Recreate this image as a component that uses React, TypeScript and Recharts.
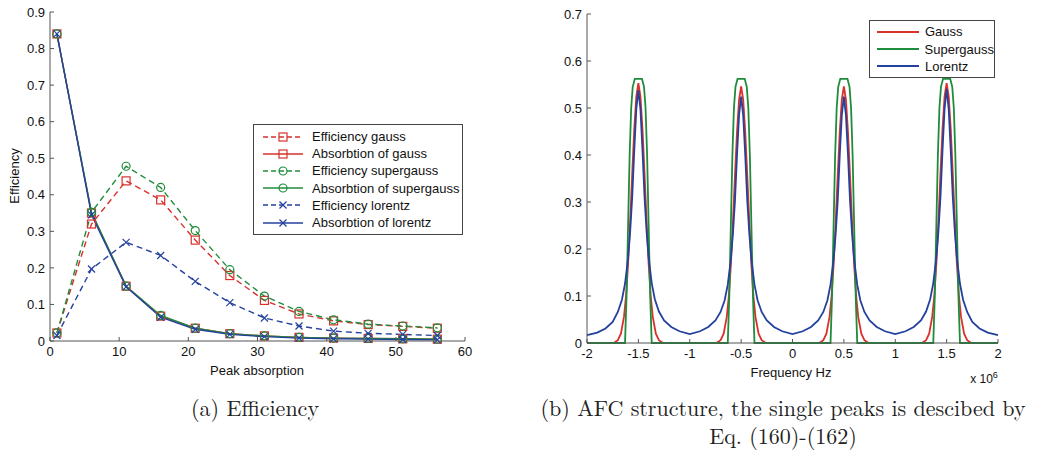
import React from "react";
import { LineChart, Line, XAxis, YAxis, Legend } from "recharts";

// ---- (a) Efficiency ----
const peakAbsorption = [1, 6, 11, 16, 21, 26, 31, 36, 41, 46, 51, 56];
const effGauss = [0.022, 0.32, 0.438, 0.386, 0.276, 0.179, 0.111, 0.074, 0.055, 0.045, 0.04, 0.035];
const absGauss = [0.84, 0.35, 0.15, 0.068, 0.035, 0.02, 0.014, 0.01, 0.008, 0.007, 0.006, 0.005];
const effSuper = [0.022, 0.352, 0.478, 0.42, 0.302, 0.195, 0.123, 0.081, 0.058, 0.046, 0.041, 0.036];
const absSuper = [0.84, 0.352, 0.15, 0.07, 0.035, 0.02, 0.014, 0.01, 0.008, 0.007, 0.006, 0.005];
const effLorentz = [0.015, 0.197, 0.27, 0.234, 0.163, 0.105, 0.063, 0.041, 0.027, 0.021, 0.018, 0.015];
const absLorentz = [0.84, 0.345, 0.148, 0.065, 0.032, 0.018, 0.012, 0.008, 0.006, 0.005, 0.004, 0.003];
const effTicksX = [0, 10, 20, 30, 40, 50, 60];
const effTicksY = [0, 0.1, 0.2, 0.3, 0.4, 0.5, 0.6, 0.7, 0.8, 0.9];

// ---- (b) AFC structure (frequency in units of 1e6 Hz) ----
const gaussFreq = [
  -2,
  -1.74, -1.7, -1.67, -1.64, -1.62, -1.6, -1.58, -1.56, -1.54, -1.52, -1.5, -1.48, -1.46, -1.44, -1.42, -1.4, -1.38, -1.36, -1.33, -1.3, -1.26,
  -1,
  -0.74, -0.7, -0.67, -0.64, -0.62, -0.6, -0.58, -0.56, -0.54, -0.52, -0.5, -0.48, -0.46, -0.44, -0.42, -0.4, -0.38, -0.36, -0.33, -0.3, -0.26,
  0,
  0.26, 0.3, 0.33, 0.36, 0.38, 0.4, 0.42, 0.44, 0.46, 0.48, 0.5, 0.52, 0.54, 0.56, 0.58, 0.6, 0.62, 0.64, 0.67, 0.7, 0.74,
  1,
  1.26, 1.3, 1.33, 1.36, 1.38, 1.4, 1.42, 1.44, 1.46, 1.48, 1.5, 1.52, 1.54, 1.56, 1.58, 1.6, 1.62, 1.64, 1.67, 1.7, 1.74,
  2,
];
const gaussAfc = [
  0,
  0, 0.006, 0.02, 0.056, 0.1, 0.168, 0.26, 0.36, 0.455, 0.525, 0.553, 0.525, 0.455, 0.36, 0.26, 0.168, 0.1, 0.056, 0.02, 0.006, 0,
  0,
  0, 0.006, 0.02, 0.055, 0.099, 0.166, 0.257, 0.355, 0.449, 0.518, 0.546, 0.518, 0.449, 0.355, 0.257, 0.166, 0.099, 0.055, 0.02, 0.006, 0,
  0,
  0, 0.006, 0.02, 0.055, 0.099, 0.166, 0.257, 0.355, 0.449, 0.518, 0.546, 0.518, 0.449, 0.355, 0.257, 0.166, 0.099, 0.055, 0.02, 0.006, 0,
  0,
  0, 0.006, 0.02, 0.056, 0.1, 0.168, 0.26, 0.36, 0.455, 0.525, 0.553, 0.525, 0.455, 0.36, 0.26, 0.168, 0.1, 0.056, 0.02, 0.006, 0,
  0,
];

const superFreq = [
  -2,
  -1.63, -1.615, -1.6, -1.585, -1.57, -1.555, -1.535, -1.5, -1.465, -1.445, -1.43, -1.415, -1.4, -1.385, -1.37,
  -1,
  -0.63, -0.615, -0.6, -0.585, -0.57, -0.555, -0.535, -0.5, -0.465, -0.445, -0.43, -0.415, -0.4, -0.385, -0.37,
  0,
  0.37, 0.385, 0.4, 0.415, 0.43, 0.445, 0.465, 0.5, 0.535, 0.555, 0.57, 0.585, 0.6, 0.615, 0.63,
  1,
  1.37, 1.385, 1.4, 1.415, 1.43, 1.445, 1.465, 1.5, 1.535, 1.555, 1.57, 1.585, 1.6, 1.615, 1.63,
  2,
];
const superAfc = [
  0,
  0, 0.1, 0.25, 0.4, 0.5, 0.545, 0.562, 0.562, 0.562, 0.545, 0.5, 0.4, 0.25, 0.1, 0,
  0,
  0, 0.1, 0.25, 0.4, 0.5, 0.545, 0.562, 0.562, 0.562, 0.545, 0.5, 0.4, 0.25, 0.1, 0,
  0,
  0, 0.1, 0.25, 0.4, 0.5, 0.545, 0.562, 0.562, 0.562, 0.545, 0.5, 0.4, 0.25, 0.1, 0,
  0,
  0, 0.1, 0.25, 0.4, 0.5, 0.545, 0.562, 0.562, 0.562, 0.545, 0.5, 0.4, 0.25, 0.1, 0,
  0,
];

const lorentzFreq = [
  -2,
  -1.9, -1.82, -1.75, -1.7, -1.66, -1.63, -1.6, -1.58, -1.56, -1.54, -1.52, -1.5, -1.48, -1.46, -1.44, -1.42, -1.4, -1.37, -1.34, -1.3, -1.25, -1.18, -1.1,
  -1,
  -0.9, -0.82, -0.75, -0.7, -0.66, -0.63, -0.6, -0.58, -0.56, -0.54, -0.52, -0.5, -0.48, -0.46, -0.44, -0.42, -0.4, -0.37, -0.34, -0.3, -0.25, -0.18, -0.1,
  0,
  0.1, 0.18, 0.25, 0.3, 0.34, 0.37, 0.4, 0.42, 0.44, 0.46, 0.48, 0.5, 0.52, 0.54, 0.56, 0.58, 0.6, 0.63, 0.66, 0.7, 0.75, 0.82, 0.9,
  1,
  1.1, 1.18, 1.25, 1.3, 1.34, 1.37, 1.4, 1.42, 1.44, 1.46, 1.48, 1.5, 1.52, 1.54, 1.56, 1.58, 1.6, 1.63, 1.66, 1.7, 1.75, 1.82, 1.9,
  2,
];
const lorentzAfc = [
  0.017,
  0.022, 0.031, 0.045, 0.066, 0.092, 0.126, 0.181, 0.237, 0.31, 0.41, 0.498, 0.538, 0.498, 0.41, 0.31, 0.237, 0.182, 0.127, 0.093, 0.067, 0.048, 0.034, 0.025,
  0.019,
  0.025, 0.034, 0.048, 0.066, 0.091, 0.124, 0.178, 0.232, 0.302, 0.4, 0.485, 0.524, 0.485, 0.4, 0.302, 0.232, 0.178, 0.124, 0.091, 0.066, 0.048, 0.034, 0.025,
  0.019,
  0.025, 0.034, 0.048, 0.066, 0.091, 0.124, 0.178, 0.232, 0.302, 0.4, 0.485, 0.524, 0.485, 0.4, 0.302, 0.232, 0.178, 0.124, 0.091, 0.066, 0.048, 0.034, 0.025,
  0.019,
  0.025, 0.034, 0.048, 0.067, 0.093, 0.127, 0.182, 0.237, 0.31, 0.41, 0.498, 0.541, 0.498, 0.41, 0.31, 0.237, 0.181, 0.126, 0.092, 0.066, 0.045, 0.031, 0.022,
  0.017,
];
const afcTicksX = [-2, -1.5, -1, -0.5, 0, 0.5, 1, 1.5, 2];
const afcTicksY = [0, 0.1, 0.2, 0.3, 0.4, 0.5, 0.6, 0.7];

const RED = "#d8312c";
const GREEN = "#1f8c3b";
const BLUE = "#24419e";

const effData = peakAbsorption.map((p, i) => ({
  p,
  effGauss: effGauss[i],
  absGauss: absGauss[i],
  effSuper: effSuper[i],
  absSuper: absSuper[i],
  effLorentz: effLorentz[i],
  absLorentz: absLorentz[i],
}));

const zip = (f: number[], v: number[]) => f.map((x, i) => ({ f: x, v: v[i] }));

type Marker = "square" | "circle" | "cross";

const effSeries: { key: string; name: string; color: string; dashed: boolean; marker: Marker }[] = [
  { key: "effGauss", name: "Efficiency gauss", color: RED, dashed: true, marker: "square" },
  { key: "absGauss", name: "Absorbtion of gauss", color: RED, dashed: false, marker: "square" },
  { key: "effSuper", name: "Efficiency supergauss", color: GREEN, dashed: true, marker: "circle" },
  { key: "absSuper", name: "Absorbtion of supergauss", color: GREEN, dashed: false, marker: "circle" },
  { key: "effLorentz", name: "Efficiency lorentz", color: BLUE, dashed: true, marker: "cross" },
  { key: "absLorentz", name: "Absorbtion of lorentz", color: BLUE, dashed: false, marker: "cross" },
];

const afcSeries = [
  { name: "Gauss", color: RED, data: zip(gaussFreq, gaussAfc) },
  { name: "Supergauss", color: GREEN, data: zip(superFreq, superAfc) },
  { name: "Lorentz", color: BLUE, data: zip(lorentzFreq, lorentzAfc) },
];

function MarkerShape({ kind, cx, cy, color }: { kind: Marker; cx: number; cy: number; color: string }) {
  if (kind === "square")
    return <rect x={cx - 4} y={cy - 4} width={8} height={8} fill="none" stroke={color} strokeWidth={1.2} />;
  if (kind === "circle") return <circle cx={cx} cy={cy} r={4} fill="none" stroke={color} strokeWidth={1.2} />;
  return (
    <g stroke={color} strokeWidth={1.2}>
      <line x1={cx - 3.5} y1={cy - 3.5} x2={cx + 3.5} y2={cy + 3.5} />
      <line x1={cx - 3.5} y1={cy + 3.5} x2={cx + 3.5} y2={cy - 3.5} />
    </g>
  );
}

const makeDot = (kind: Marker, color: string) => (props: any) => {
  if (props.cx == null || props.cy == null) return <g key={`e-${props.index}`} />;
  return (
    <g key={`m-${props.index}`}>
      <MarkerShape kind={kind} cx={props.cx} cy={props.cy} color={color} />
    </g>
  );
};

const sans = "'Liberation Sans', Arial, sans-serif";
const serif = "'Latin Modern Roman', 'Liberation Serif', 'DejaVu Serif', serif";
const tickStyle = { fill: "#111", fontSize: 13, fontFamily: sans };
const axisColor = "#555";

function EffLegend() {
  return (
    <div style={{ border: "1px solid #444", background: "#fff", width: 208, padding: "3px 0" }}>
      {effSeries.map((s) => (
        <div key={s.key} style={{ display: "flex", alignItems: "center", height: 17.2 }}>
          <svg width={52} height={14} style={{ marginLeft: 6 }}>
            <line x1={3} y1={7} x2={43} y2={7} stroke={s.color} strokeWidth={1.3} strokeDasharray={s.dashed ? "5 3" : undefined} />
            <MarkerShape kind={s.marker} cx={23} cy={7} color={s.color} />
          </svg>
          <span style={{ fontSize: 13, fontFamily: sans, color: "#111" }}>{s.name}</span>
        </div>
      ))}
    </div>
  );
}

function AfcLegend() {
  return (
    <div style={{ border: "1px solid #444", background: "#fff", width: 124, padding: "2px 0" }}>
      {afcSeries.map((s) => (
        <div key={s.name} style={{ display: "flex", alignItems: "center", height: 17.4 }}>
          <svg width={50} height={14} style={{ marginLeft: 5 }}>
            <line x1={2} y1={7} x2={44} y2={7} stroke={s.color} strokeWidth={1.8} />
          </svg>
          <span style={{ fontSize: 13, fontFamily: sans, color: "#111" }}>{s.name}</span>
        </div>
      ))}
    </div>
  );
}

const textAt = (left: number, top: number, extra: React.CSSProperties = {}): React.CSSProperties => ({
  position: "absolute",
  left,
  top,
  transform: "translate(-50%, -50%)",
  whiteSpace: "nowrap",
  lineHeight: 1,
  ...extra,
});

export default function App() {
  return (
    <div style={{ position: "absolute", left: 0, top: 0, width: 1042, height: 454, background: "#fff", overflow: "hidden" }}>
      <LineChart
        width={500}
        height={390}
        data={effData}
        margin={{ top: 12, right: 35, left: 0, bottom: 19 }}
        style={{ position: "absolute", left: 0, top: 0 }}
      >
        <XAxis
          dataKey="p"
          type="number"
          domain={[0, 60]}
          ticks={effTicksX}
          height={30}
          tick={tickStyle}
          tickSize={-4}
          tickMargin={10}
          stroke={axisColor}
        />
        <YAxis
          type="number"
          domain={[0, 0.9]}
          ticks={effTicksY}
          width={50}
          tick={tickStyle}
          tickSize={-4}
          tickMargin={9}
          stroke={axisColor}
          tickFormatter={(v: number) => (v === 0 ? "0" : v.toFixed(1))}
        />
        {effSeries.map((s) => (
          <Line
            key={s.key}
            dataKey={s.key}
            name={s.name}
            stroke={s.color}
            strokeWidth={1.4}
            strokeDasharray={s.dashed ? "6 4" : undefined}
            type="linear"
            dot={makeDot(s.marker, s.color)}
            activeDot={false}
            isAnimationActive={false}
          />
        ))}
        <Legend
          layout="vertical"
          align="center"
          verticalAlign="middle"
          content={() => <EffLegend />}
          wrapperStyle={{ position: "absolute", left: 253, top: 124, width: 210 }}
        />
      </LineChart>

      <LineChart
        width={542}
        height={390}
        margin={{ top: 14, right: 44, left: 37, bottom: 17 }}
        style={{ position: "absolute", left: 500, top: 0 }}
      >
        <XAxis
          dataKey="f"
          type="number"
          domain={[-2, 2]}
          ticks={afcTicksX}
          height={30}
          tick={tickStyle}
          tickSize={-4}
          tickMargin={10}
          stroke={axisColor}
          allowDuplicatedCategory={false}
        />
        <YAxis
          type="number"
          domain={[0, 0.7]}
          ticks={afcTicksY}
          width={50}
          tick={tickStyle}
          tickSize={-4}
          tickMargin={9}
          stroke={axisColor}
          tickFormatter={(v: number) => (v === 0 ? "0" : v.toFixed(1))}
        />
        {afcSeries.map((s) => (
          <Line
            key={s.name}
            data={s.data}
            dataKey="v"
            name={s.name}
            stroke={s.color}
            strokeWidth={1.8}
            type="linear"
            dot={false}
            activeDot={false}
            isAnimationActive={false}
          />
        ))}
        <Legend
          layout="vertical"
          align="center"
          verticalAlign="middle"
          content={() => <AfcLegend />}
          wrapperStyle={{ position: "absolute", left: 369, top: 20, width: 126 }}
        />
      </LineChart>

      {/* axis titles */}
      <div style={textAt(14, 176, { transform: "translate(-50%, -50%) rotate(-90deg)", fontFamily: sans, fontSize: 13, color: "#111" })}>
        Efficiency
      </div>
      <div style={textAt(257, 370, { fontFamily: sans, fontSize: 13, color: "#111" })}>Peak absorption</div>
      <div style={textAt(791, 372, { fontFamily: sans, fontSize: 13, color: "#111" })}>Frequency Hz</div>
      <div style={textAt(984, 378, { fontFamily: sans, fontSize: 12, color: "#111" })}>
        x 10<sup style={{ fontSize: 9 }}>6</sup>
      </div>

      {/* captions */}
      <div style={textAt(255, 407, { fontFamily: serif, fontSize: 22, color: "#222" })}>(a) Efficiency</div>
      <div style={textAt(783, 407, { fontFamily: serif, fontSize: 22, color: "#222" })}>
        (b) AFC structure, the single peaks is descibed by
      </div>
      <div style={textAt(783, 435, { fontFamily: serif, fontSize: 22, color: "#222" })}>Eq. (160)-(162)</div>
    </div>
  );
}
